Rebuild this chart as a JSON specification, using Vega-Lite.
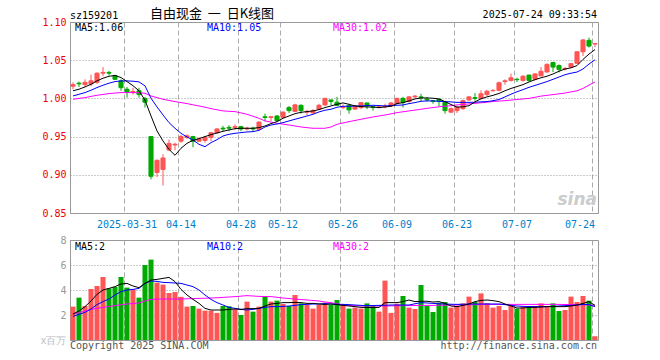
{
"$schema": "https://vega.github.io/schema/vega-lite/v6.json",
"background": "white",
"padding": {"left": 39, "top": 7, "right": 5, "bottom": 5},
"spacing": 4,
"config": {"view": {"stroke": "#999999", "strokeWidth": 1}, "font": "DejaVu Sans Mono"},
"datasets": {"k": [
{"d":"2025-03-18","o":1.016,"h":1.021,"l":1.012,"c":1.018,"v":2.67,"m5":1.010,"m10":1.0032,"m30":0.9989,"vm5":2.08,"vm10":1.89,"vm30":2.05},
{"d":"2025-03-19","o":1.020,"h":1.022,"l":1.015,"c":1.019,"v":3.39,"m5":1.012,"m10":1.0054,"m30":1.000,"vm5":2.32,"vm10":2.05,"vm30":2.19},
{"d":"2025-03-20","o":1.018,"h":1.025,"l":1.015,"c":1.021,"v":2.72,"m5":1.015,"m10":1.0076,"m30":1.001,"vm5":2.67,"vm10":2.21,"vm30":2.32},
{"d":"2025-03-21","o":1.019,"h":1.031,"l":1.016,"c":1.023,"v":4.08,"m5":1.0185,"m10":1.0107,"m30":1.0026,"vm5":3.12,"vm10":2.48,"vm30":2.45},
{"d":"2025-03-24","o":1.021,"h":1.034,"l":1.019,"c":1.033,"v":4.32,"m5":1.023,"m10":1.0142,"m30":1.0041,"vm5":3.65,"vm10":2.83,"vm30":2.53},
{"d":"2025-03-25","o":1.033,"h":1.041,"l":1.029,"c":1.034,"v":5.04,"m5":1.0264,"m10":1.0172,"m30":1.0052,"vm5":4.0,"vm10":3.07,"vm30":2.61},
{"d":"2025-03-26","o":1.034,"h":1.036,"l":1.030,"c":1.033,"v":4.13,"m5":1.029,"m10":1.0199,"m30":1.0063,"vm5":4.13,"vm10":3.28,"vm30":2.68},
{"d":"2025-03-27","o":1.030,"h":1.031,"l":1.024,"c":1.025,"v":4.24,"m5":1.030,"m10":1.022,"m30":1.007,"vm5":4.27,"vm10":3.6,"vm30":2.75},
{"d":"2025-03-28","o":1.023,"h":1.025,"l":1.010,"c":1.014,"v":5.04,"m5":1.0273,"m10":1.0229,"m30":1.0076,"vm5":4.48,"vm10":3.87,"vm30":2.82},
{"d":"2025-03-31","o":1.012,"h":1.015,"l":1.001,"c":1.008,"v":4.19,"m5":1.022,"m10":1.0229,"m30":1.0076,"vm5":4.53,"vm10":4.0,"vm30":2.88},
{"d":"2025-04-01","o":1.008,"h":1.014,"l":1.005,"c":1.009,"v":4.05,"m5":1.0166,"m10":1.0225,"m30":1.0076,"vm5":4.32,"vm10":4.05,"vm30":2.92},
{"d":"2025-04-02","o":1.010,"h":1.014,"l":1.001,"c":1.005,"v":3.39,"m5":1.010,"m10":1.0216,"m30":1.0074,"vm5":4.19,"vm10":4.13,"vm30":2.96},
{"d":"2025-04-03","o":1.000,"h":1.002,"l":0.988,"c":0.995,"v":6.0,"m5":0.9976,"m10":1.0164,"m30":1.0067,"vm5":4.53,"vm10":4.53,"vm30":3.12},
{"d":"2025-04-07","o":0.950,"h":0.950,"l":0.894,"c":0.898,"v":6.43,"m5":0.977,"m10":1.0002,"m30":1.0032,"vm5":4.8,"vm10":4.72,"vm30":3.25},
{"d":"2025-04-08","o":0.903,"h":0.920,"l":0.897,"c":0.919,"v":4.59,"m5":0.9574,"m10":0.9888,"m30":1.001,"vm5":4.85,"vm10":4.69,"vm30":3.27},
{"d":"2025-04-09","o":0.907,"h":0.927,"l":0.886,"c":0.922,"v":4.43,"m5":0.9443,"m10":0.9783,"m30":0.9989,"vm5":4.93,"vm10":4.61,"vm30":3.28},
{"d":"2025-04-10","o":0.9325,"h":0.946,"l":0.931,"c":0.941,"v":3.76,"m5":0.9333,"m10":0.9683,"m30":0.9973,"vm5":5.01,"vm10":4.59,"vm30":3.28},
{"d":"2025-04-11","o":0.939,"h":0.942,"l":0.932,"c":0.940,"v":3.84,"m5":0.9255,"m10":0.9609,"m30":0.9958,"vm5":4.67,"vm10":4.56,"vm30":3.28},
{"d":"2025-04-14","o":0.944,"h":0.952,"l":0.942,"c":0.950,"v":3.45,"m5":0.9347,"m10":0.9543,"m30":0.9945,"vm5":4.05,"vm10":4.53,"vm30":3.28},
{"d":"2025-04-15","o":0.949,"h":0.953,"l":0.947,"c":0.951,"v":2.67,"m5":0.9412,"m10":0.9495,"m30":0.9932,"vm5":3.6,"vm10":4.4,"vm30":3.3},
{"d":"2025-04-16","o":0.950,"h":0.951,"l":0.936,"c":0.944,"v":2.72,"m5":0.9451,"m10":0.9456,"m30":0.9916,"vm5":3.25,"vm10":4.27,"vm30":3.31},
{"d":"2025-04-17","o":0.944,"h":0.949,"l":0.943,"c":0.947,"v":2.51,"m5":0.9473,"m10":0.9399,"m30":0.9901,"vm5":2.93,"vm10":4.0,"vm30":3.33},
{"d":"2025-04-18","o":0.945,"h":0.951,"l":0.942,"c":0.949,"v":2.35,"m5":0.950,"m10":0.9368,"m30":0.9884,"vm5":2.53,"vm10":3.6,"vm30":3.34},
{"d":"2025-04-21","o":0.949,"h":0.956,"l":0.944,"c":0.955,"v":2.35,"m5":0.9526,"m10":0.9421,"m30":0.9866,"vm5":2.4,"vm10":3.25,"vm30":3.36},
{"d":"2025-04-22","o":0.955,"h":0.961,"l":0.954,"c":0.960,"v":2.17,"m5":0.9547,"m10":0.946,"m30":0.9851,"vm5":2.4,"vm10":2.99,"vm30":3.38},
{"d":"2025-04-23","o":0.961,"h":0.964,"l":0.957,"c":0.960,"v":2.72,"m5":0.9569,"m10":0.9508,"m30":0.9836,"vm5":2.4,"vm10":2.8,"vm30":3.41},
{"d":"2025-04-24","o":0.962,"h":0.965,"l":0.957,"c":0.961,"v":2.7,"m5":0.9587,"m10":0.953,"m30":0.9831,"vm5":2.45,"vm10":2.61,"vm30":3.44},
{"d":"2025-04-25","o":0.962,"h":0.966,"l":0.959,"c":0.963,"v":2.45,"m5":0.9604,"m10":0.9543,"m30":0.9827,"vm5":2.48,"vm10":2.53,"vm30":3.47},
{"d":"2025-04-28","o":0.963,"h":0.964,"l":0.957,"c":0.960,"v":2.0,"m5":0.9609,"m10":0.9552,"m30":0.981,"vm5":2.45,"vm10":2.45,"vm30":3.51},
{"d":"2025-04-29","o":0.960,"h":0.963,"l":0.958,"c":0.961,"v":3.07,"m5":0.9609,"m10":0.9561,"m30":0.9792,"vm5":2.51,"vm10":2.4,"vm30":3.55},
{"d":"2025-04-30","o":0.961,"h":0.963,"l":0.957,"c":0.960,"v":2.27,"m5":0.9609,"m10":0.9565,"m30":0.9766,"vm5":2.51,"vm10":2.45,"vm30":3.52},
{"d":"2025-05-06","o":0.9595,"h":0.970,"l":0.958,"c":0.969,"v":2.67,"m5":0.9618,"m10":0.9582,"m30":0.974,"vm5":2.53,"vm10":2.53,"vm30":3.49},
{"d":"2025-05-07","o":0.976,"h":0.980,"l":0.970,"c":0.975,"v":3.47,"m5":0.9639,"m10":0.9626,"m30":0.9705,"vm5":2.72,"vm10":2.61,"vm30":3.48},
{"d":"2025-05-08","o":0.975,"h":0.977,"l":0.970,"c":0.976,"v":3.07,"m5":0.967,"m10":0.9652,"m30":0.969,"vm5":2.88,"vm10":2.67,"vm30":3.47},
{"d":"2025-05-09","o":0.977,"h":0.978,"l":0.970,"c":0.971,"v":3.15,"m5":0.9696,"m10":0.9665,"m30":0.9674,"vm5":2.93,"vm10":2.67,"vm30":3.42},
{"d":"2025-05-12","o":0.975,"h":0.983,"l":0.974,"c":0.982,"v":2.88,"m5":0.974,"m10":0.9683,"m30":0.9663,"vm5":2.99,"vm10":2.69,"vm30":3.36},
{"d":"2025-05-13","o":0.988,"h":0.990,"l":0.981,"c":0.984,"v":2.72,"m5":0.977,"m10":0.9705,"m30":0.9652,"vm5":2.99,"vm10":2.72,"vm30":3.32},
{"d":"2025-05-14","o":0.983,"h":0.993,"l":0.982,"c":0.9915,"v":3.6,"m5":0.980,"m10":0.9727,"m30":0.9639,"vm5":3.01,"vm10":2.77,"vm30":3.28},
{"d":"2025-05-15","o":0.991,"h":0.992,"l":0.980,"c":0.984,"v":2.93,"m5":0.9818,"m10":0.9748,"m30":0.9626,"vm5":2.99,"vm10":2.83,"vm30":3.24},
{"d":"2025-05-16","o":0.982,"h":0.985,"l":0.978,"c":0.983,"v":2.8,"m5":0.9827,"m10":0.977,"m30":0.9617,"vm5":2.93,"vm10":2.85,"vm30":3.2},
{"d":"2025-05-19","o":0.981,"h":0.986,"l":0.980,"c":0.984,"v":2.51,"m5":0.9836,"m10":0.9792,"m30":0.9609,"vm5":2.93,"vm10":2.88,"vm30":3.16},
{"d":"2025-05-20","o":0.986,"h":0.993,"l":0.985,"c":0.991,"v":2.8,"m5":0.9853,"m10":0.9823,"m30":0.9609,"vm5":2.88,"vm10":2.88,"vm30":3.12},
{"d":"2025-05-21","o":0.9915,"h":1.001,"l":0.990,"c":1.000,"v":2.99,"m5":0.988,"m10":0.9845,"m30":0.9609,"vm5":2.85,"vm10":2.91,"vm30":3.04},
{"d":"2025-05-22","o":0.998,"h":0.998,"l":0.991,"c":0.996,"v":2.8,"m5":0.9901,"m10":0.9858,"m30":0.9626,"vm5":2.88,"vm10":2.88,"vm30":2.99},
{"d":"2025-05-23","o":0.995,"h":1.002,"l":0.990,"c":0.991,"v":3.2,"m5":0.9923,"m10":0.9884,"m30":0.9661,"vm5":2.83,"vm10":2.86,"vm30":2.9},
{"d":"2025-05-26","o":0.988,"h":0.992,"l":0.986,"c":0.989,"v":2.8,"m5":0.9941,"m10":0.9897,"m30":0.9679,"vm5":2.77,"vm10":2.85,"vm30":2.8},
{"d":"2025-05-27","o":0.991,"h":0.992,"l":0.980,"c":0.985,"v":2.51,"m5":0.9923,"m10":0.9897,"m30":0.9696,"vm5":2.72,"vm10":2.83,"vm30":2.76},
{"d":"2025-05-28","o":0.986,"h":0.991,"l":0.985,"c":0.990,"v":2.59,"m5":0.9901,"m10":0.9901,"m30":0.9711,"vm5":2.67,"vm10":2.8,"vm30":2.74},
{"d":"2025-05-29","o":0.988,"h":0.995,"l":0.986,"c":0.9945,"v":2.51,"m5":0.9893,"m10":0.9901,"m30":0.9727,"vm5":2.61,"vm10":2.77,"vm30":2.72},
{"d":"2025-05-30","o":0.994,"h":0.9945,"l":0.986,"c":0.990,"v":2.93,"m5":0.9888,"m10":0.9906,"m30":0.9742,"vm5":2.61,"vm10":2.75,"vm30":2.72},
{"d":"2025-06-03","o":0.989,"h":0.990,"l":0.984,"c":0.988,"v":2.72,"m5":0.9888,"m10":0.991,"m30":0.9757,"vm5":2.59,"vm10":2.76,"vm30":2.72},
{"d":"2025-06-04","o":0.988,"h":0.990,"l":0.987,"c":0.989,"v":2.27,"m5":0.988,"m10":0.9906,"m30":0.977,"vm5":2.61,"vm10":2.77,"vm30":2.72},
{"d":"2025-06-05","o":0.989,"h":0.993,"l":0.987,"c":0.990,"v":4.75,"m5":0.9888,"m10":0.9901,"m30":0.9783,"vm5":2.99,"vm10":2.78,"vm30":2.72},
{"d":"2025-06-06","o":0.990,"h":0.995,"l":0.989,"c":0.994,"v":2.17,"m5":0.9897,"m10":0.9906,"m30":0.9798,"vm5":2.99,"vm10":2.8,"vm30":2.73},
{"d":"2025-06-09","o":0.9935,"h":1.001,"l":0.992,"c":1.000,"v":2.9,"m5":0.9932,"m10":0.991,"m30":0.9814,"vm5":2.99,"vm10":2.8,"vm30":2.74},
{"d":"2025-06-10","o":1.000,"h":1.002,"l":0.988,"c":0.9945,"v":3.52,"m5":0.9945,"m10":0.9914,"m30":0.9825,"vm5":3.07,"vm10":2.8,"vm30":2.75},
{"d":"2025-06-11","o":0.996,"h":1.003,"l":0.9945,"c":1.002,"v":2.59,"m5":0.9967,"m10":0.9932,"m30":0.9836,"vm5":3.2,"vm10":2.8,"vm30":2.75},
{"d":"2025-06-12","o":1.002,"h":1.0045,"l":1.000,"c":1.003,"v":2.48,"m5":0.9993,"m10":0.9945,"m30":0.9847,"vm5":3.07,"vm10":2.9,"vm30":2.76},
{"d":"2025-06-13","o":1.002,"h":1.006,"l":0.996,"c":1.001,"v":4.4,"m5":1.0006,"m10":0.9962,"m30":0.9858,"vm5":3.1,"vm10":2.99,"vm30":2.77},
{"d":"2025-06-16","o":0.999,"h":1.002,"l":0.996,"c":0.998,"v":2.72,"m5":1.0006,"m10":0.9967,"m30":0.987,"vm5":3.1,"vm10":2.96,"vm30":2.77},
{"d":"2025-06-17","o":0.997,"h":0.997,"l":0.993,"c":0.996,"v":2.24,"m5":1.0002,"m10":0.9967,"m30":0.988,"vm5":3.04,"vm10":2.93,"vm30":2.77},
{"d":"2025-06-18","o":0.999,"h":0.999,"l":0.990,"c":0.996,"v":2.99,"m5":0.9993,"m10":0.9962,"m30":0.989,"vm5":3.07,"vm10":2.9,"vm30":2.78},
{"d":"2025-06-19","o":0.995,"h":0.9955,"l":0.980,"c":0.984,"v":3.04,"m5":0.9958,"m10":0.9958,"m30":0.9897,"vm5":2.93,"vm10":2.88,"vm30":2.79},
{"d":"2025-06-20","o":0.982,"h":0.988,"l":0.981,"c":0.9865,"v":2.59,"m5":0.992,"m10":0.9954,"m30":0.9905,"vm5":2.72,"vm10":2.86,"vm30":2.8},
{"d":"2025-06-23","o":0.984,"h":0.990,"l":0.981,"c":0.9885,"v":2.72,"m5":0.9886,"m10":0.9948,"m30":0.9915,"vm5":2.67,"vm10":2.85,"vm30":2.8},
{"d":"2025-06-24","o":0.9865,"h":0.9985,"l":0.985,"c":0.997,"v":2.93,"m5":0.989,"m10":0.9948,"m30":0.992,"vm5":2.77,"vm10":2.86,"vm30":2.81},
{"d":"2025-06-25","o":0.998,"h":1.003,"l":0.9965,"c":1.002,"v":3.47,"m5":0.9905,"m10":0.9948,"m30":0.9928,"vm5":2.88,"vm10":2.88,"vm30":2.82},
{"d":"2025-06-26","o":1.001,"h":1.007,"l":0.997,"c":1.000,"v":3.04,"m5":0.9955,"m10":0.995,"m30":0.9935,"vm5":3.07,"vm10":2.88,"vm30":2.83},
{"d":"2025-06-27","o":1.000,"h":1.0105,"l":0.9985,"c":1.006,"v":3.73,"m5":0.9995,"m10":0.9955,"m30":0.9943,"vm5":3.17,"vm10":2.88,"vm30":2.85},
{"d":"2025-06-30","o":1.005,"h":1.0105,"l":1.003,"c":1.0095,"v":2.95,"m5":1.002,"m10":0.9958,"m30":0.995,"vm5":3.2,"vm10":2.88,"vm30":2.85},
{"d":"2025-07-01","o":1.010,"h":1.012,"l":1.009,"c":1.0105,"v":2.59,"m5":1.004,"m10":0.997,"m30":0.996,"vm5":3.15,"vm10":2.88,"vm30":2.85},
{"d":"2025-07-02","o":1.0105,"h":1.022,"l":1.0095,"c":1.0205,"v":2.72,"m5":1.0065,"m10":0.9985,"m30":0.9965,"vm5":3.07,"vm10":2.88,"vm30":2.85},
{"d":"2025-07-03","o":1.022,"h":1.025,"l":1.018,"c":1.023,"v":2.4,"m5":1.010,"m10":1.002,"m30":0.997,"vm5":2.88,"vm10":2.83,"vm30":2.85},
{"d":"2025-07-04","o":1.0235,"h":1.0325,"l":1.022,"c":1.027,"v":2.72,"m5":1.013,"m10":1.0055,"m30":0.9978,"vm5":2.72,"vm10":2.77,"vm30":2.85},
{"d":"2025-07-07","o":1.025,"h":1.027,"l":1.0215,"c":1.0245,"v":2.51,"m5":1.0155,"m10":1.0087,"m30":0.9985,"vm5":2.56,"vm10":2.72,"vm30":2.85},
{"d":"2025-07-08","o":1.0235,"h":1.0305,"l":1.022,"c":1.029,"v":2.67,"m5":1.018,"m10":1.0115,"m30":0.9993,"vm5":2.56,"vm10":2.69,"vm30":2.85},
{"d":"2025-07-09","o":1.0305,"h":1.031,"l":1.022,"c":1.0235,"v":2.72,"m5":1.0215,"m10":1.0145,"m30":1.000,"vm5":2.61,"vm10":2.68,"vm30":2.85},
{"d":"2025-07-10","o":1.025,"h":1.033,"l":1.0235,"c":1.032,"v":2.72,"m5":1.0245,"m10":1.017,"m30":1.0015,"vm5":2.61,"vm10":2.67,"vm30":2.85},
{"d":"2025-07-11","o":1.0295,"h":1.041,"l":1.029,"c":1.0355,"v":2.93,"m5":1.027,"m10":1.0195,"m30":1.003,"vm5":2.64,"vm10":2.67,"vm30":2.85},
{"d":"2025-07-14","o":1.0345,"h":1.046,"l":1.034,"c":1.0445,"v":2.72,"m5":1.029,"m10":1.022,"m30":1.004,"vm5":2.67,"vm10":2.67,"vm30":2.85},
{"d":"2025-07-15","o":1.047,"h":1.048,"l":1.0345,"c":1.041,"v":2.93,"m5":1.032,"m10":1.025,"m30":1.005,"vm5":2.67,"vm10":2.69,"vm30":2.85},
{"d":"2025-07-16","o":1.043,"h":1.0445,"l":1.034,"c":1.038,"v":2.32,"m5":1.0355,"m10":1.028,"m30":1.006,"vm5":2.67,"vm10":2.72,"vm30":2.85},
{"d":"2025-07-17","o":1.0385,"h":1.041,"l":1.0365,"c":1.039,"v":2.4,"m5":1.0385,"m10":1.031,"m30":1.007,"vm5":2.67,"vm10":2.75,"vm30":2.84},
{"d":"2025-07-18","o":1.041,"h":1.046,"l":1.040,"c":1.0455,"v":3.47,"m5":1.040,"m10":1.033,"m30":1.0085,"vm5":2.72,"vm10":2.77,"vm30":2.84},
{"d":"2025-07-21","o":1.046,"h":1.062,"l":1.045,"c":1.061,"v":3.04,"m5":1.043,"m10":1.0345,"m30":1.010,"vm5":2.8,"vm10":2.8,"vm30":2.83},
{"d":"2025-07-22","o":1.061,"h":1.0775,"l":1.0555,"c":1.0765,"v":3.52,"m5":1.051,"m10":1.0385,"m30":1.013,"vm5":2.93,"vm10":2.85,"vm30":2.82},
{"d":"2025-07-23","o":1.076,"h":1.0795,"l":1.0665,"c":1.0685,"v":3.15,"m5":1.058,"m10":1.045,"m30":1.0175,"vm5":3.07,"vm10":2.83,"vm30":2.8},
{"d":"2025-07-24","o":1.0712,"h":1.0718,"l":1.067,"c":1.0718,"v":0.3,"m5":1.064,"m10":1.0505,"m30":1.0215,"vm5":2.77,"vm10":2.67,"vm30":2.77}
]},
"vconcat": [
{
"width": 528, "height": 191,
"data": {"name": "k"},
"encoding": {"x": {"field": "d", "type": "ordinal", "title": null,
  "scale": {"paddingInner": 0, "paddingOuter": 0},
  "axis": {"values": ["2025-03-31","2025-04-14","2025-04-28","2025-05-12","2025-05-26","2025-06-09","2025-06-23","2025-07-07","2025-07-24"],
    "bandPosition": 0, "grid": true, "gridColor": "#aaaaaa", "gridDash": [5,3], "ticks": false, "domain": false,
    "labelAngle": 0, "labelOverlap": false, "labelPadding": 6, "labelFont": "DejaVu Sans Mono", "labelFontSize": 10, "labelColor": "#0080cc",
    "labelExpr": "datum.value == '2025-03-31' ? datum.value : substring(datum.value, 5)",
    "labelAlign": {"condition": {"test": "datum.value == '2025-07-24'", "value": "right"}, "value": "center"}}}},
"layer": [
 {"mark": {"type": "rule", "strokeWidth": 1},
  "encoding": {
   "y": {"field": "l", "type": "quantitative", "title": null,
     "scale": {"domain": [0.85, 1.10], "zero": false, "nice": false},
     "axis": {"values": [0.85,0.9,0.95,1,1.05,1.1], "tickCount": 20, "format": ".2f", "grid": true, "gridColor": "#999999", "gridDash": [1,2],
       "ticks": false, "domain": false, "labelOverlap": false, "labelPadding": 4, "labelFont": "DejaVu Sans Mono", "labelFontSize": 10, "labelColor": "#ee0000"}},
   "y2": {"field": "h"},
   "color": {"condition": {"test": "datum.c >= datum.o", "value": "#ff5555"}, "value": "#00aa00"}}},
 {"mark": {"type": "bar", "width": {"band": 0.68}, "strokeWidth": 1},
  "encoding": {
   "y": {"field": "o", "type": "quantitative", "title": null},
   "y2": {"field": "c"},
   "color": {"condition": {"test": "datum.c >= datum.o", "value": "#ff5555"}, "value": "#00aa00"},
   "stroke": {"condition": {"test": "datum.c >= datum.o", "value": "#ff5555"}, "value": "#00aa00"}}},
 {"mark": {"type": "line", "strokeWidth": 1, "color": "#ff00ff"},
  "encoding": {"y": {"field": "m30", "type": "quantitative", "title": null}}},
 {"mark": {"type": "line", "strokeWidth": 1, "color": "#0000ff"},
  "encoding": {"y": {"field": "m10", "type": "quantitative", "title": null}}},
 {"mark": {"type": "line", "strokeWidth": 1, "color": "#000000"},
  "encoding": {"y": {"field": "m5", "type": "quantitative", "title": null}}},
 {"data": {"values": [{"d": "2025-03-18", "t": "MA5:1.06", "s": "MA5"}, {"d": "2025-04-18", "t": "MA10:1.05", "s": "MA10"}, {"d": "2025-05-22", "t": "MA30:1.02", "s": "MA30"}]},
  "mark": {"type": "text", "align": "left", "baseline": "alphabetic", "dx": 5, "dy": 9, "font": "DejaVu Sans Mono", "fontSize": 10},
  "encoding": {"x": {"field": "d", "type": "ordinal", "bandPosition": 0}, "y": {"datum": 1.10},
   "text": {"field": "t"},
   "color": {"field": "s", "type": "nominal", "legend": null, "scale": {"domain": ["MA5","MA10","MA30"], "range": ["#000000","#0000ff","#ff00ff"]}}}},
 {"data": {"values": [{"d": "2025-03-18", "t": "sz159201"}]},
  "mark": {"type": "text", "align": "left", "baseline": "alphabetic", "dy": -3, "font": "DejaVu Sans Mono", "fontSize": 10, "color": "#000000"},
  "encoding": {"x": {"field": "d", "type": "ordinal", "bandPosition": 0}, "y": {"datum": 1.10}, "text": {"field": "t"}}},
 {"data": {"values": [{"d": "2025-04-07", "t": "自由现金\u00a0\u00a0一\u00a0\u00a0日K线图"}]},
  "mark": {"type": "text", "align": "left", "baseline": "alphabetic", "dx": 2, "dy": -4, "font": "Noto Sans CJK SC", "fontSize": 13, "color": "#000000"},
  "encoding": {"x": {"field": "d", "type": "ordinal", "bandPosition": 0}, "y": {"datum": 1.10}, "text": {"field": "t"}}},
 {"data": {"values": [{"d": "2025-07-24", "t": "2025-07-24 09:33:54"}]},
  "mark": {"type": "text", "align": "right", "baseline": "alphabetic", "dx": -1, "dy": -4, "font": "DejaVu Sans Mono", "fontSize": 10, "color": "#000000"},
  "encoding": {"x": {"field": "d", "type": "ordinal", "bandPosition": 1}, "y": {"datum": 1.10}, "text": {"field": "t"}}},
 {"data": {"values": [{"d": "2025-07-24", "t": "sina"}]},
  "mark": {"type": "text", "align": "right", "baseline": "alphabetic", "dx": -1, "dy": -8, "font": "DejaVu Sans", "fontSize": 17, "fontWeight": "bold", "fontStyle": "italic", "color": "#cccccc"},
  "encoding": {"x": {"field": "d", "type": "ordinal", "bandPosition": 1}, "y": {"datum": 0.85}, "text": {"field": "t"}}}
]
},
{
"width": 528, "height": 100,
"data": {"name": "k"},
"encoding": {"x": {"field": "d", "type": "ordinal", "title": null,
  "scale": {"paddingInner": 0, "paddingOuter": 0},
  "axis": {"values": ["2025-03-31","2025-04-14","2025-04-28","2025-05-12","2025-05-26","2025-06-09","2025-06-23","2025-07-07","2025-07-24"],
    "bandPosition": 0, "grid": true, "gridColor": "#aaaaaa", "gridDash": [5,3], "ticks": false, "domain": false, "labels": false}}},
"layer": [
 {"mark": {"type": "bar", "width": {"band": 0.84}},
  "encoding": {
   "y": {"field": "v", "type": "quantitative", "title": null,
     "scale": {"domain": [0, 8], "nice": false},
     "axis": {"values": [0,2,4,6,8], "tickCount": 20, "format": "d", "grid": true, "gridColor": "#999999", "gridDash": [1,2], "ticks": false, "domain": false,
       "labelOverlap": false, "labelPadding": 4, "labelFont": "DejaVu Sans Mono", "labelFontSize": 10,
       "labelColor": {"condition": {"test": "datum.value == 0", "value": "#bbbbbb"}, "value": "#999999"},
       "labelExpr": "datum.value == 0 ? 'x百万' : datum.label"}},
   "color": {"condition": {"test": "datum.c >= datum.o", "value": "#ff5555"}, "value": "#00aa00"}}},
 {"mark": {"type": "line", "strokeWidth": 1, "color": "#ff00ff"},
  "encoding": {"y": {"field": "vm30", "type": "quantitative", "title": null}}},
 {"mark": {"type": "line", "strokeWidth": 1, "color": "#0000ff"},
  "encoding": {"y": {"field": "vm10", "type": "quantitative", "title": null}}},
 {"mark": {"type": "line", "strokeWidth": 1, "color": "#000000"},
  "encoding": {"y": {"field": "vm5", "type": "quantitative", "title": null}}},
 {"data": {"values": [{"d": "2025-03-18", "t": "MA5:2", "s": "MA5"}, {"d": "2025-04-18", "t": "MA10:2", "s": "MA10"}, {"d": "2025-05-22", "t": "MA30:2", "s": "MA30"}]},
  "mark": {"type": "text", "align": "left", "baseline": "alphabetic", "dx": 5, "dy": 10, "font": "DejaVu Sans Mono", "fontSize": 10},
  "encoding": {"x": {"field": "d", "type": "ordinal", "bandPosition": 0}, "y": {"datum": 8},
   "text": {"field": "t"},
   "color": {"field": "s", "type": "nominal", "legend": null, "scale": {"domain": ["MA5","MA10","MA30"], "range": ["#000000","#0000ff","#ff00ff"]}}}},
 {"data": {"values": [{"d": "2025-03-18", "t": "Copyright 2025 SINA.COM"}]},
  "mark": {"type": "text", "align": "left", "baseline": "top", "dy": 1, "font": "DejaVu Sans Mono", "fontSize": 10, "color": "#555555"},
  "encoding": {"x": {"field": "d", "type": "ordinal", "bandPosition": 0}, "y": {"datum": 0}, "text": {"field": "t"}}},
 {"data": {"values": [{"d": "2025-07-24", "t": "http://finance.sina.com.cn"}]},
  "mark": {"type": "text", "align": "right", "baseline": "top", "dx": -1, "dy": 1, "font": "DejaVu Sans Mono", "fontSize": 10, "color": "#555555"},
  "encoding": {"x": {"field": "d", "type": "ordinal", "bandPosition": 1}, "y": {"datum": 0}, "text": {"field": "t"}}}
]
}
]
}
